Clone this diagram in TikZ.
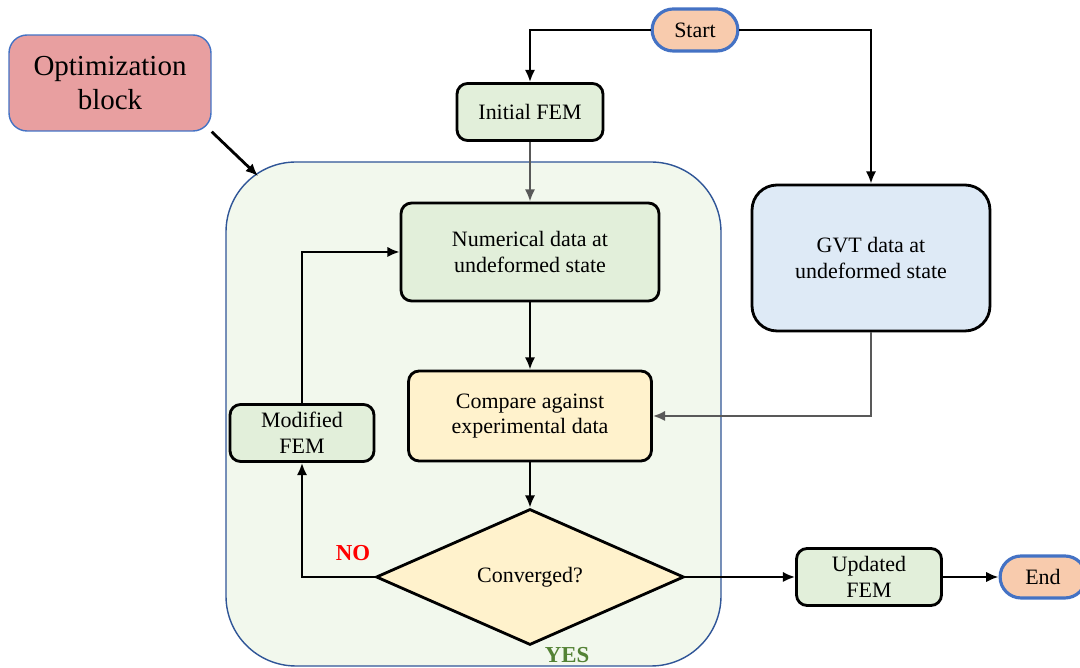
\documentclass[tikz,border=0pt]{standalone}
\usepackage{fontspec}
\setmainfont{Liberation Serif}
\usetikzlibrary{shapes,arrows.meta,positioning,calc}
\definecolor{optred}{HTML}{E89FA0}
\definecolor{termfill}{HTML}{F8CBAD}
\definecolor{termblue}{HTML}{4472C4}
\definecolor{femgreen}{HTML}{E2EFDA}
\definecolor{gvtblue}{HTML}{DEEAF6}
\definecolor{cmpyellow}{HTML}{FFF2CC}
\definecolor{loopfill}{HTML}{F2F8ED}
\definecolor{loopblue}{HTML}{2F5597}
\definecolor{yesgreen}{HTML}{548235}
\definecolor{arrgray}{HTML}{595959}

\begin{document}
\begin{tikzpicture}[x=0.02cm,y=-0.02cm,
    box/.style={draw=black,line width=1.6pt,rounded corners=6pt,align=center,
        font=\fontsize{12.5}{14.7}\selectfont,inner sep=2pt},
    term/.style={rounded rectangle,draw=termblue,line width=1.8pt,fill=termfill,
        minimum width=1.95cm,minimum height=0.84cm,font=\fontsize{12.5}{14.7}\selectfont},
    arr/.style={-{Latex[length=7pt,width=6pt]},line width=1.6pt},
    lbl/.style={font=\fontsize{13}{15}\selectfont\bfseries}]
    \useasboundingbox (0,0) rectangle (1080,668);

    % loop container
    \draw[fill=loopfill,draw=loopblue,line width=0.8pt,rounded corners=1.4cm] (226,162) rectangle (721,666);
    \coordinate (loopin) at (258,176);

    \node[draw=termblue,line width=0.8pt,fill=optred,rounded corners=0.36cm,align=center,
        minimum width=4.04cm,minimum height=1.92cm,font=\fontsize{16.5}{19}\selectfont] (opt) at (110,83) {Optimization\\block};
    \node[term] (start) at (695,30) {Start};
    \node[box,fill=femgreen,minimum width=2.92cm,minimum height=1.14cm] (init) at (530,112) {Initial FEM};
    \node[box,fill=femgreen,minimum width=5.16cm,minimum height=1.96cm] (num) at (530,252) {Numerical data at\\undeformed state};
    \node[box,fill=gvtblue,rounded corners=0.5cm,minimum width=4.76cm,minimum height=2.92cm] (gvt) at (871,258) {GVT data at\\undeformed state};
    \node[box,fill=cmpyellow,minimum width=4.86cm,minimum height=1.8cm] (comp) at (530,416) {Compare against\\experimental data};
    \node[box,fill=femgreen,minimum width=2.88cm,minimum height=1.14cm] (mod) at (302,433) {Modified\\FEM};
    \node[diamond,draw=black,line width=1.6pt,fill=cmpyellow,inner sep=0pt,
        minimum width=6.16cm,minimum height=2.72cm,font=\fontsize{12.5}{14.7}\selectfont] (conv) at (530,577) {Converged?};
    \node[box,fill=femgreen,minimum width=2.9cm,minimum height=1.14cm] (upd) at (869,577) {Updated\\FEM};
    \node[term] (end) at (1043,577) {End};
    \node[lbl,text=red] (no) at (353,553) {NO};
    \node[lbl,text=yesgreen] (yes) at (567,655) {YES};

    \draw[arr] (opt.south east) -- (loopin);
    \draw[arr] (start.west) -| (init.north);
    \draw[arr] (start.east) -| (gvt.north);
    \draw[arr,draw=arrgray] (init.south) -- (num.north);
    \draw[arr] (num.south) -- (comp.north);
    \draw[arr,draw=arrgray] (gvt.south) |- (comp.east);
    \draw[arr] (comp.south) -- (conv.north);
    \draw[arr] (conv.west) -| (mod.south);
    \draw[arr] (mod.north) |- (num.west);
    \draw[arr] (conv.east) -- (upd.west);
    \draw[arr] (upd.east) -- (end.west);
\end{tikzpicture}
\end{document}
